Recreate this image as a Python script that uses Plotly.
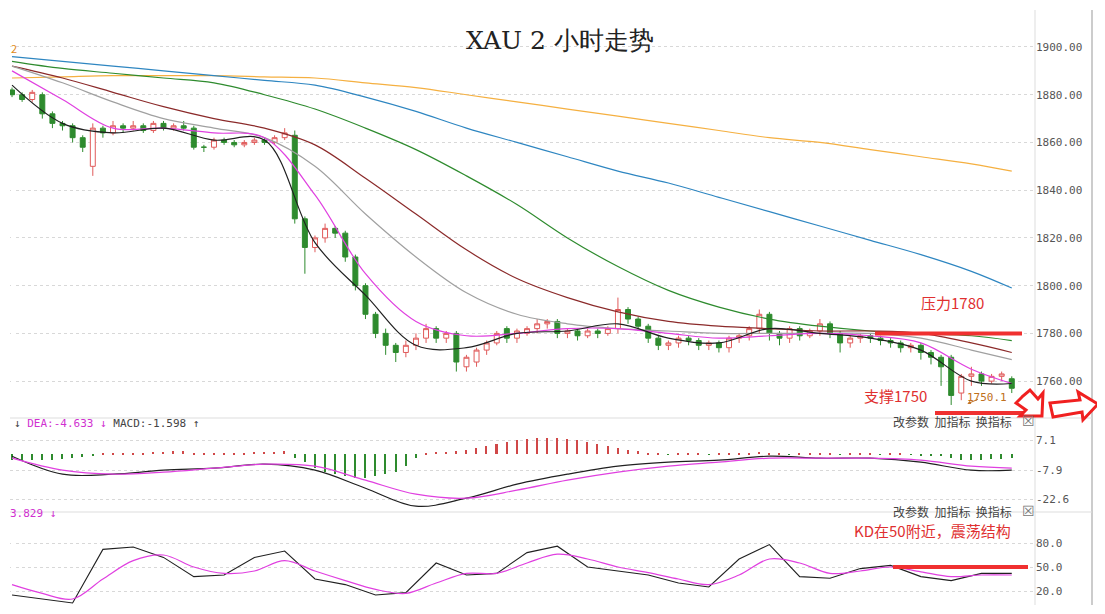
import plotly.graph_objects as go
from plotly.subplots import make_subplots

# candles (2h bars)
opens = [1882,1880,1878,1880,1872,1868,1867,1862,1850,1866,
         1864,1867,1866,1867,1865,1868,1866,1867,1866,1858,
         1858,1861,1860,1859,1860,1861,1860,1862,1863,1828,
         1816,1820,1824,1822,1812,1800,1788,1780,1775,1772,
         1775,1778,1782,1778,1780,1766,1768,1773,1776,1782,
         1778,1780,1782,1784,1785,1780,1781,1779,1781,1780,
         1782,1790,1786,1783,1778,1775,1776,1778,1777,1775,
         1776,1774,1778,1779,1782,1788,1780,1778,1782,1779,
         1781,1784,1780,1776,1778,1779,1778,1777,1776,1774,
         1775,1772,1770,1770,1755,1762,1763,1760,1762,1761]
closes = [1880,1878,1881,1872,1868,1867,1862,1858,1866,1864,
          1867,1866,1867,1865,1868,1866,1867,1866,1858,1858,
          1861,1860,1859,1860,1861,1860,1862,1864,1828,1816,
          1820,1824,1822,1812,1800,1788,1780,1775,1772,1775,
          1778,1782,1778,1780,1768,1770,1773,1776,1780,1778,
          1781,1782,1784,1785,1780,1781,1779,1781,1780,1782,
          1790,1786,1783,1778,1775,1776,1778,1777,1775,1776,
          1774,1778,1779,1782,1788,1780,1778,1782,1779,1781,
          1784,1780,1776,1778,1779,1778,1777,1776,1774,1775,
          1772,1770,1766,1754,1762,1763,1760,1762,1763,1757]
highs = [1883,1881,1882,1881,1873,1869,1868,1863,1868,1867,
         1869,1868,1869,1868,1869,1869,1868,1869,1867,1859,
         1862,1862,1861,1861,1862,1862,1863,1866,1865,1829,
         1821,1826,1825,1823,1813,1801,1789,1782,1776,1777,
         1780,1784,1783,1781,1781,1771,1774,1777,1781,1783,
         1782,1783,1786,1786,1786,1782,1782,1782,1782,1783,
         1795,1791,1787,1784,1779,1777,1779,1779,1778,1777,
         1777,1779,1780,1783,1790,1789,1781,1783,1783,1782,
         1786,1785,1781,1779,1780,1780,1779,1778,1777,1776,
         1776,1773,1771,1771,1763,1766,1764,1763,1764,1762]
lows = [1879,1877,1877,1870,1866,1865,1860,1856,1846,1862,
        1863,1864,1865,1864,1864,1865,1865,1865,1857,1856,
        1857,1859,1858,1858,1859,1859,1859,1861,1826,1805,
        1814,1818,1820,1810,1798,1786,1778,1771,1768,1770,
        1773,1776,1776,1776,1764,1764,1766,1771,1775,1776,
        1776,1779,1780,1782,1778,1778,1777,1778,1778,1779,
        1780,1784,1781,1776,1773,1773,1774,1775,1773,1773,
        1772,1772,1776,1777,1780,1777,1775,1776,1777,1778,
        1779,1778,1772,1774,1776,1776,1775,1774,1772,1772,
        1769,1767,1758,1750,1752,1758,1758,1759,1760,1755]
bars = list(range(len(closes)))

# moving averages, read every 5 bars
ma_idx = [0,5,10,15,20,25,30,35,40,45,50,55,60,65,70,75,80,85,90,95,99]
ma_orange = [1887,1887.5,1888,1888,1888,1887.5,1887,1885,1883,1880,1877,1874,1871,1868,1865,1862,1860,1857,1854,1851,1848]
ma_blue = [1896,1894,1892,1890,1888,1886,1884,1879,1873,1866,1860,1854,1848,1843,1837,1831,1825,1819,1813,1806,1799]
ma_green = [1894,1891,1889,1887,1885,1880,1874,1866,1857,1846,1834,1820,1808,1798,1791,1786,1783,1781,1780,1779,1777]
ma_brown = [1892,1887,1881,1875,1870,1866,1859,1845,1830,1815,1803,1795,1789,1785,1783,1782,1781,1781,1780,1776,1772]
ma_gray = [1892,1885,1877,1870,1866,1862,1850,1830,1812,1797,1788,1784,1782,1781,1780,1780,1780,1780,1778,1773,1769]
ma_magenta = [1890,1878,1866,1866,1864,1862,1838,1805,1785,1779,1780,1782,1782,1780,1778,1779,1780,1779,1776,1765,1759]
ma_black = [1884,1868,1864,1866,1861,1861,1818,1796,1775,1774,1780,1781,1784,1778,1776,1782,1780,1778,1773,1760,1759]

# MACD
dif = [-1,-10,-10,-8,-7,-5,-8,-17,-26,-22,-15,-10,-6,-4,-3,-1,-2,-2,-4,-8,-8]
dea = [-2,-8,-10,-9,-7,-5,-6,-13,-20,-22,-18,-13,-9,-6,-4,-2,-2,-2,-3,-6,-7]
macd_hist = ([-3,-3,-3,-3,-3,-2.5,-2,-1.5,-1] +
             [0.3,0.4,0.5,0.6,0.8,1,1.2,1.4,1.5,0.5,0.4,0.3,0.5,0.6,0.8,1,1.2,1.3,1.5] +
             [-2,-4,-7,-9,-10,-11,-12,-12,-11,-10,-9,-6,-2] +
             [0.5,1,1,1.5,2,3,4,5,6,7,7.5,8,8,8,7.5,7,6,5,4,3,2,1.5] +
             [0.5,0.3,-0.3,0.4,0.5,0.3,-0.4,0.3,0.5,0.6,0.8,1,0.6,0.4,-0.3,0.3,0.4,0.5,0.3,-0.3,0.3,0.4,0.3,-0.3,0.2,0.3,-0.4,-0.5,-0.6] +
             [-1,-2,-3,-3,-3,-2.5,-2.5,-2])

# KD, read every 3 bars
kd_idx = list(range(0, 100, 3))
k_line = [15,10,5,72,75,62,38,40,62,70,35,28,15,18,55,40,42,68,76,50,45,40,30,25,60,78,38,36,48,52,38,33,42,42]
d_line = [28,17,10,35,58,65,50,42,45,58,45,33,22,17,30,42,42,55,66,60,50,43,35,28,40,60,55,42,45,50,44,38,40,40]

W, H = 1105, 614
L, R, T, B = 10, 70, 10, 8
OFF = 8  # page body margin
def px(x): return (x - L) / (W - L - R)
def py(y): return 1 - (y - T) / (H - T - B)

fig = make_subplots(rows=3, cols=1, shared_xaxes=True)
fig.add_trace(go.Candlestick(x=bars, open=opens, high=highs, low=lows, close=closes,
                             increasing=dict(line=dict(color="#e05a5a", width=1), fillcolor="white"),
                             decreasing=dict(line=dict(color="#2e8b2e", width=1), fillcolor="#2e8b2e"),
                             whiskerwidth=0, showlegend=False), row=1, col=1)
for ys, col in [(ma_orange, "#f5b041"), (ma_blue, "#2e86c1"), (ma_green, "#2e8b2e"), (ma_brown, "#8b2a2a"),
                (ma_gray, "#a0a0a0"), (ma_magenta, "#e040e0"), (ma_black, "#202020")]:
    fig.add_trace(go.Scatter(x=ma_idx, y=ys, mode="lines", line=dict(color=col, width=1.2, shape="spline"),
                             showlegend=False, hoverinfo="skip"), row=1, col=1)

fig.add_trace(go.Bar(x=bars, y=macd_hist, width=0.15, showlegend=False,
                     marker=dict(color=["#d04848" if v > 0 else "#2e8b2e" for v in macd_hist], line_width=0)),
              row=2, col=1)
fig.add_trace(go.Scatter(x=ma_idx, y=dif, mode="lines", line=dict(color="#202020", width=1.2, shape="spline"), showlegend=False), row=2, col=1)
fig.add_trace(go.Scatter(x=ma_idx, y=dea, mode="lines", line=dict(color="#e040e0", width=1.2, shape="spline"), showlegend=False), row=2, col=1)
fig.add_trace(go.Scatter(x=kd_idx, y=k_line, mode="lines", line=dict(color="#202020", width=1.1), showlegend=False), row=3, col=1)
fig.add_trace(go.Scatter(x=kd_idx, y=d_line, mode="lines", line=dict(color="#e040e0", width=1.2, shape="spline"), showlegend=False), row=3, col=1)

grid = dict(showgrid=True, gridcolor="#d8d8d8", griddash="dot", side="right", zeroline=False,
            tickfont=dict(family="DejaVu Sans Mono", size=11, color="#555"), ticks="", showline=False)
fig.update_layout(
    width=W, height=H, margin=dict(l=L - OFF, r=R + OFF, t=T - OFF, b=B + OFF),
    paper_bgcolor="white", plot_bgcolor="white",
    xaxis=dict(domain=[0, 1], range=[-0.2, 101.3], showticklabels=False, showgrid=False, rangeslider=dict(visible=False)),
    xaxis2=dict(range=[-0.2, 101.3], showticklabels=False, showgrid=False),
    xaxis3=dict(range=[-0.2, 101.3], showticklabels=False, showgrid=False),
    yaxis=dict(domain=[py(415), py(10)], range=[1745.8, 1915.5], tickvals=[1760,1780,1800,1820,1840,1860,1880,1900],
               tickformat=".2f", **grid),
    yaxis2=dict(domain=[py(510), py(420)], range=[-27.9, 17.1], tickvals=[7.1,-7.9,-22.6], ticktext=["7.1","-7.9","-22.6"], **grid),
    yaxis3=dict(domain=[py(605), py(513)], range=[2.5, 117.5], tickvals=[80,50,20], ticktext=["80.0","50.0","20.0"], **grid),
    bargap=0,
)

shapes = [
    dict(type="line", xref="paper", yref="paper", x0=px(1035), x1=px(1035), y0=py(10), y1=py(605), line=dict(color="#ddd", width=1)),
    dict(type="line", xref="paper", yref="paper", x0=px(1092), x1=px(1092), y0=py(10), y1=py(605), line=dict(color="#ccc", width=2)),
    dict(type="line", xref="paper", yref="paper", x0=0, x1=px(1092), y0=py(418), y1=py(418), line=dict(color="#ddd", width=1)),
    dict(type="line", xref="paper", yref="paper", x0=0, x1=px(1092), y0=py(512), y1=py(512), line=dict(color="#ddd", width=1)),
    dict(type="line", xref="paper", yref="y", x0=px(875), x1=px(1022), y0=1780, y1=1780, line=dict(color="#f03030", width=4)),
    dict(type="line", xref="paper", yref="paper", x0=px(935), x1=px(1030), y0=py(413), y1=py(413), line=dict(color="#f03030", width=4)),
    dict(type="line", xref="paper", yref="y3", x0=px(893), x1=px(1028), y0=50, y1=50, line=dict(color="#f03030", width=4)),
]
# outline arrows
def path(pts):
    return "M " + " L ".join(f"{px(a):.4f},{py(b):.4f}" for a, b in pts) + " Z"
shapes.append(dict(type="path", xref="paper", yref="paper", line=dict(color="#f02020", width=3), fillcolor="white",
                   path=path([(1022, 397), (1030, 390), (1038, 399), (1043, 393), (1042, 416), (1020, 416), (1026, 410), (1016, 403)])))
shapes.append(dict(type="path", xref="paper", yref="paper", line=dict(color="#f02020", width=3), fillcolor="white",
                   path=path([(1050, 403), (1080, 400), (1078, 392), (1098, 404), (1083, 420), (1082, 412), (1053, 417)])))
fig.update_layout(shapes=shapes)

ann = [
    dict(x=px(560), y=py(24), text="XAU 2 小时走势", font=dict(family="DejaVu Serif", size=25, color="#222")),
    dict(x=px(14), y=py(38), text="2", font=dict(size=11, color="#e08a20")),
    dict(x=px(952), y=py(302), text="压力1780", font=dict(size=15, color="#e03030")),
    dict(x=px(895), y=py(408), text="支撑1750", font=dict(size=15, color="#e03030")),
    dict(x=px(987), y=py(398), text="1750.1", font=dict(family="DejaVu Sans Mono", size=11, color="#c07020")),
    dict(x=px(932), y=py(543), text="KD在50附近，震荡结构", font=dict(size=15, color="#e03030")),
    dict(x=px(12), y=py(432), text="↓ <span style='color:#d030d0'>DEA:-4.633 ↓</span> MACD:-1.598 ↑", xanchor="left",
         font=dict(family="DejaVu Sans Mono", size=11, color="#444")),
    dict(x=px(8), y=py(522), text="3.829 ↓", xanchor="left", font=dict(family="DejaVu Sans Mono", size=11, color="#d030d0")),
]
for yy in (432, 522):
    ann.append(dict(x=px(1014), y=py(yy), text="改参数  加指标  换指标", xanchor="right", font=dict(size=12, color="#444")))
    ann.append(dict(x=px(1028), y=py(yy), text="☒", font=dict(size=14, color="#777")))
for a in ann:
    a.update(xref="paper", yref="paper", showarrow=False)
    a.setdefault("xanchor", "center")
    a.setdefault("font", {}).setdefault("family", "Noto Sans CJK SC")
ann.append(dict(x=94.6, y=1750.5, ax=12, ay=-5, xref="x", yref="y", text="", showarrow=True, arrowhead=2,
                arrowsize=0.7, arrowwidth=1, arrowcolor="#c07020"))
fig.update_layout(annotations=ann)

fig.write_html("out.html")
